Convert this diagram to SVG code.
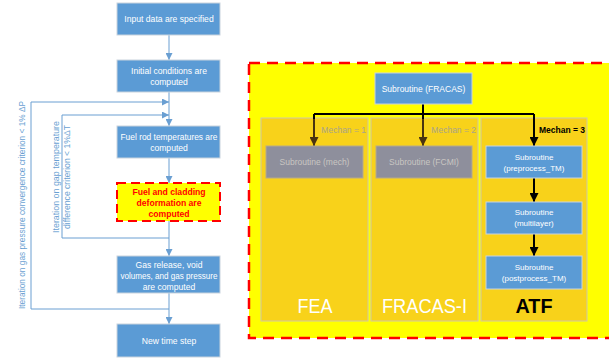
<svg xmlns="http://www.w3.org/2000/svg" width="609" height="358" viewBox="0 0 609 358">
<style>
  .box{fill:#5B9BD5;stroke:#C9D3DD;stroke-width:1}
  .t{font-family:"Liberation Sans",Arial,sans-serif;font-size:8.6px;fill:#FFFFFF;text-anchor:middle}
  .lt{font-family:"Liberation Sans",Arial,sans-serif;font-size:8.5px;fill:#6A9FD2;text-anchor:middle}
  .bl{stroke:#6A9FD2;stroke-width:1;fill:none}
  .col{fill:#F8D21A;stroke:#D0C8A8;stroke-width:1}
  .gbox{fill:#8E8F9C;stroke:#B6A98A;stroke-width:1}
  .gt{font-family:"Liberation Sans",Arial,sans-serif;font-size:8.5px;fill:#C9C6C2;text-anchor:middle}
  .st{font-family:"Liberation Sans",Arial,sans-serif;font-size:8px;fill:#FFFFFF;text-anchor:middle}
  .mech{font-family:"Liberation Sans",Arial,sans-serif;font-size:8.5px;fill:#A9A48C;text-anchor:end}
  .big{font-family:"Liberation Sans",Arial,sans-serif;font-size:21px;fill:#FFFFFF;text-anchor:middle}
  .k{stroke:#000;stroke-width:2;fill:none}
  .kb{stroke:#4A3410;stroke-width:2;fill:none}
</style>
<defs>
  <marker id="ab" viewBox="0 0 10 10" refX="10" refY="5" markerWidth="7" markerHeight="7" markerUnits="userSpaceOnUse" orient="auto">
    <path d="M0,0 L10,5 L0,10 z" fill="#6A9FD2"/>
  </marker>
  <marker id="ak" viewBox="0 0 10 10" refX="10" refY="5" markerWidth="4.5" markerHeight="4.5" orient="auto">
    <path d="M0,0 L10,5 L0,10 z" fill="#000"/>
  </marker>
  <marker id="akb" viewBox="0 0 10 10" refX="10" refY="5" markerWidth="4.5" markerHeight="4.5" orient="auto">
    <path d="M0,0 L10,5 L0,10 z" fill="#4A3410"/>
  </marker>
</defs>
<rect width="609" height="358" fill="#FFFFFF"/>

<!-- right panel background -->
<g id="atf-region">
  <rect x="249" y="63" width="370" height="275" fill="#FFFF00" stroke="#FF0000" stroke-width="2.5" stroke-dasharray="11,7"/>
</g>

<!-- connectors -->
<g id="connectors">
  <line class="bl" x1="169" y1="35" x2="169" y2="60" marker-end="url(#ab)"/>
  <line class="bl" x1="169" y1="92" x2="169" y2="126" marker-end="url(#ab)"/>
  <line class="bl" x1="169" y1="158" x2="169" y2="183" marker-end="url(#ab)"/>
  <line class="bl" x1="169" y1="221" x2="169" y2="256" marker-end="url(#ab)"/>
  <line class="bl" x1="169" y1="293" x2="169" y2="324" marker-end="url(#ab)"/>
  <polyline class="bl" points="169,309 31,309 31,102 169,102" marker-end="url(#ab)"/>
  <polyline class="bl" points="169,238 62,238 62,115 169,115" marker-end="url(#ab)"/>
</g>

<!-- columns -->
<g id="col-fea">
  <rect class="col" x="261" y="118" width="107" height="203"/>
  <text class="mech" x="366" y="133">Mechan = 1</text>
  <text class="big" x="315" y="313" textLength="35" lengthAdjust="spacingAndGlyphs">FEA</text>
</g>
<g id="col-fracas-i">
  <rect class="col" x="371" y="118" width="107" height="203"/>
  <text class="mech" x="476" y="133">Mechan = 2</text>
  <text class="big" x="424.5" y="313" textLength="85" lengthAdjust="spacingAndGlyphs">FRACAS-I</text>
</g>
<g id="col-atf">
  <rect class="col" x="481" y="118" width="106" height="203"/>
  <text class="mech" x="585" y="133" style="fill:#000;font-weight:bold">Mechan = 3</text>
  <text class="big" x="534" y="313" style="fill:#000;font-weight:bold" textLength="37" lengthAdjust="spacingAndGlyphs">ATF</text>
</g>

<g id="right-connectors">
  <polyline class="k" points="423,104 423,114"/>
  <polyline class="k" points="314,114 534,114"/>
  <line class="kb" x1="314" y1="119" x2="314" y2="146" marker-end="url(#akb)"/>
  <line class="kb" x1="423" y1="119" x2="423" y2="146" marker-end="url(#akb)"/>
  <line class="k" x1="314" y1="114" x2="314" y2="119"/>
  <line class="k" x1="423" y1="114" x2="423" y2="119"/>
  <line class="k" x1="534" y1="114" x2="534" y2="146" marker-end="url(#ak)"/>
  <line class="k" x1="534" y1="178" x2="534" y2="202" marker-end="url(#ak)"/>
  <line class="k" x1="534" y1="234" x2="534" y2="256" marker-end="url(#ak)"/>
</g>

<!-- left flowchart nodes -->
<g id="n-input">
  <rect class="box" x="117" y="3" width="103" height="32"/>
  <text class="t" x="169" y="22">Input data are specified</text>
</g>
<g id="n-initial">
  <rect class="box" x="117" y="60" width="103" height="32"/>
  <text class="t" x="169" y="74">Initial conditions are</text>
  <text class="t" x="169" y="85">computed</text>
</g>
<g id="n-fuelrod">
  <rect class="box" x="117" y="126" width="103" height="32"/>
  <text class="t" x="169" y="140" textLength="97" lengthAdjust="spacingAndGlyphs">Fuel rod temperatures are</text>
  <text class="t" x="169" y="151">computed</text>
</g>
<g id="n-deform">
  <rect x="117" y="183" width="103" height="38" fill="#FFFF00" stroke="#FF0000" stroke-width="2" stroke-dasharray="9,5"/>
  <text class="t" x="169" y="195" style="fill:#FF0000;font-weight:bold">Fuel and cladding</text>
  <text class="t" x="169" y="206" style="fill:#FF0000;font-weight:bold">deformation are</text>
  <text class="t" x="169" y="217" style="fill:#FF0000;font-weight:bold">computed</text>
</g>
<g id="n-gas">
  <rect class="box" x="117" y="256" width="103" height="37"/>
  <text class="t" x="169" y="268">Gas release, void</text>
  <text class="t" x="169" y="279" textLength="97" lengthAdjust="spacingAndGlyphs">volumes, and gas pressure</text>
  <text class="t" x="169" y="290">are computed</text>
</g>
<g id="n-newstep">
  <rect class="box" x="117" y="324" width="103" height="33"/>
  <text class="t" x="169" y="344">New time step</text>
</g>

<!-- loop labels -->
<g id="loop-labels">
  <text class="lt" transform="translate(25,205) rotate(-90)" textLength="208" lengthAdjust="spacingAndGlyphs">Iteration on gas pressure convergence criterion &lt; 1% ΔP</text>
  <text class="lt" transform="translate(59,177) rotate(-90)" textLength="112" lengthAdjust="spacingAndGlyphs">Iteration on gap temperature</text>
  <text class="lt" transform="translate(70,177) rotate(-90)" textLength="104" lengthAdjust="spacingAndGlyphs">difference criterion &lt; 1%ΔT</text>
</g>

<!-- right nodes -->
<g id="n-fracas">
  <rect class="box" x="375" y="73" width="97" height="31"/>
  <text class="st" x="423.5" y="91.5" style="font-size:8.5px">Subroutine (FRACAS)</text>
</g>
<g id="n-mech">
  <rect class="gbox" x="266" y="146" width="97" height="32"/>
  <text class="gt" x="314.5" y="165">Subroutine (mech)</text>
</g>
<g id="n-fcmi">
  <rect class="gbox" x="376" y="146" width="96" height="32"/>
  <text class="gt" x="424" y="165">Subroutine (FCMI)</text>
</g>
<g id="n-pre">
  <rect class="box" x="486" y="146" width="96" height="32"/>
  <text class="st" x="534" y="160">Subroutine</text>
  <text class="st" x="534" y="171">(preprocess_TM)</text>
</g>
<g id="n-multi">
  <rect class="box" x="486" y="202" width="96" height="32"/>
  <text class="st" x="534" y="215">Subroutine</text>
  <text class="st" x="534" y="226">(multilayer)</text>
</g>
<g id="n-post">
  <rect class="box" x="486" y="256" width="96" height="33"/>
  <text class="st" x="534" y="270">Subroutine</text>
  <text class="st" x="534" y="281">(postprocess_TM)</text>
</g>
</svg>
